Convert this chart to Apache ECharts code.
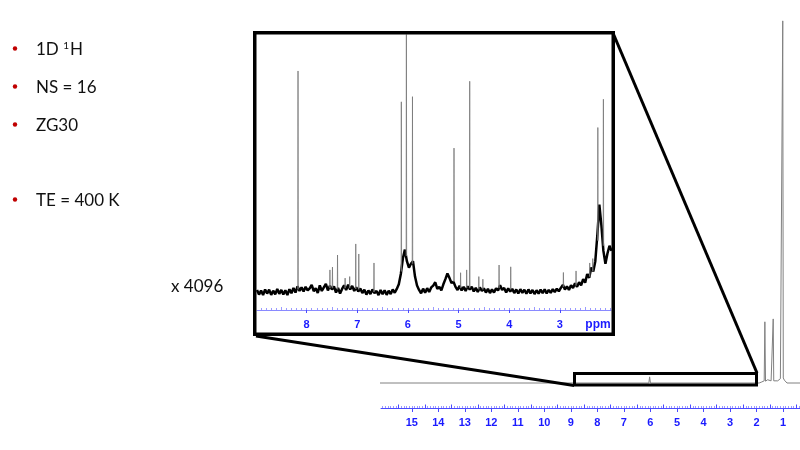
<!DOCTYPE html>
<html><head><meta charset="utf-8">
<script src="https://cdn.jsdelivr.net/npm/echarts@6/dist/echarts.min.js"></script>
<style>html,body{margin:0;padding:0;background:#fff}#c{width:800px;height:450px}</style>
</head><body><div id="c"></div>
<script>
// ---- text content ----
const bulletTexts = ['1D {sup|1}H', 'NS = 16', 'ZG30', 'TE = 400 K'];
const magnification = 'x 4096';
const insetUnit = 'ppm';

// ---- axis tick labels (ppm) ----
const mainTickLabels = [15, 14, 13, 12, 11, 10, 9, 8, 7, 6, 5, 4, 3, 2, 1];
const insetTickLabels = [8, 7, 6, 5, 4, 3];

// ---- full spectrum (ppm, relative intensity) ----
const mainPpm =       [16.2, 6.06, 6.03, 6.00, 1.90, 1.80, 1.71, 1.685, 1.66, 1.58, 1.53, 1.45, 1.39, 1.37, 1.35, 1.20, 1.10, 1.06, 1.03, 1.01, 0.99, 0.95, 0.85, 0.30];
const mainIntensity = [0,    0,    1.7,  0,    0,    0.3,  0.6,  16.9,  0.5,  0.9,  1.1,  0.6,  0.7,  17.7, 0.6,  0.6,  1.2,  1.6,  1.2,  100,  1.4,  0.8,  0,    0];

// ---- inset (x 4096): baseline read every 0.04 ppm from 8.98 ppm ----
const insetNoiseStart = 8.98;
const insetNoiseStep = 0.04;
const insetNoise = [
  0.8,-1.0,0.6,-1.2,1.0,-0.6,0.9,-1.1,0.5,-0.9,1.2,-0.7,0.8,-1.0,0.7,-1.2,1.1,-0.5,
  1.6,-0.2,2.2,0.4,1.8,
  0.2,2.0,0.6,1.4,2.8,0.3,1.5,-0.4,2.6,0.4,
  1.8,3.2,0.6,2.4,1.0,2.2,-0.2,1.6,-0.6,1.2,2.6,0.8,2.8,
  1.0,2.4,0.4,1.8,0.2,1.4,-0.4,
  0.9,-1.0,0.6,-0.8,1.0,-0.4,0.4,-1.2,0.8,-0.9,0.7,-1.1,0.5,-0.8,1.0,-0.3,
  1.2,3.0,7.0,13.0,16.5,12.0,9.5,11.0,12.0,6.0,2.5,0.8,
  -0.5,1.3,-0.3,1.5,0.0,1.8,2.5,3.8,1.2,2.0,0.6,
  3.0,5.0,7.2,5.5,3.5,4.0,2.0,0.8,
  2.4,0.6,2.0,0.4,2.2,1.0,2.0,0.2,1.6,0.0,1.8,0.4,1.4,-0.2,1.2,-0.4,1.0,
  -0.2,1.4,0.6,2.6,0.8,1.6,-0.2,1.4,0.2,1.2,-0.4,1.0,-0.6,1.1,-0.3,0.9,-0.7,1.0,-0.5,0.8,-0.8,0.7,
  -0.6,0.9,-0.4,1.0,-0.5,0.8,-0.3,1.1,0.0,1.3,0.3,1.6,2.8,1.0,2.2,
  0.8,2.6,1.6,3.4,2.0,3.8,2.6,5.0,3.6,7.0,5.5,9.5,8.0,12.0,22.0,34.0,26.0,16.0,11.0,15.0,18.0,
  16.0
];
// sharp lines in the inset
const insetPeakPpm =    [8.17, 7.54, 7.49, 7.39, 7.24, 7.15, 7.03, 6.97, 6.67, 6.13, 6.03, 5.91, 5.09, 4.96, 4.84, 4.78, 4.60, 4.52, 4.20, 3.97, 2.93, 2.68, 2.41, 2.35, 2.25, 2.14];
const insetPeakHeight = [86,   8.6,  9.7,  14.4, 5.4,  6.0,  18.7, 14.8, 11.3, 74,   110,  76,   56,   7.5,  8.6,  82,   6.0,  5.0,  10.5, 9.8,  7.6,  8.2,  11.3, 13.0, 64,   75];
const insetPeakBase =   [1.0,  1.5,  1.5,  1.0,  1.5,  1.5,  1.2,  1.0,  0.0,  8.0,  14.0, 11.0, 4.0,  1.5,  1.5,  1.5,  1.0,  1.0,  1.5,  1.0,  2.0,  2.5,  6.0,  8.0,  20.0, 18.0];

// ---- build series data ----
const mainData = mainPpm.map((p, i) => [p, mainIntensity[i]]);
const insetBaseData = insetNoise.map((v, i) => [+(insetNoiseStart - insetNoiseStep * i).toFixed(3), v]);
const insetPeakData = [];
insetPeakPpm.forEach((p, i) => {
  insetPeakData.push([p + 0.005, insetPeakBase[i]]);
  insetPeakData.push([p, insetPeakHeight[i]]);
  insetPeakData.push([p - 0.005, insetPeakBase[i]]);
  insetPeakData.push([p - 0.006, '-']);
});

function steps(from, to, tenths) { const a = []; for (let k = Math.round(from * 10); k <= Math.round(to * 10); k += tenths) a.push(k / 10); return a; }
const mainMinor = steps(0.4, 16.1, 1);
const mainHalf = steps(0.5, 16.0, 5).filter(v => !Number.isInteger(v));
const insetMinor = steps(2.0, 8.9, 1);
const insetHalf = steps(2.5, 8.5, 5).filter(v => !Number.isInteger(v));

const blueText = '#1a1aff';
const blueLine = '#4a4aff';
const blueLight = '#9a9aff';
const labelFont = { color: blueText, fontWeight: 'bold', fontSize: 11, fontFamily: 'Liberation Sans, Arial, sans-serif' };

function tickAxis(grid, min, max, values, len, inside, color) {
  return {
    type: 'value', gridIndex: grid, min: min, max: max, inverse: true, position: 'bottom', offset: 0,
    axisLine: { show: false, onZero: false }, splitLine: { show: false }, axisLabel: { show: false },
    axisTick: { show: true, customValues: values, inside: inside, length: len, lineStyle: { color: color, width: 1 } }
  };
}

const chart = echarts.init(document.getElementById('c'), null, { renderer: 'canvas' });
const graphics = [];
const bulletY = [49, 87, 125, 200];
bulletTexts.forEach((t, i) => {
  graphics.push({ type: 'circle', shape: { cx: 15, cy: bulletY[i] - 0.5, r: 2.2 }, style: { fill: '#c00000' }, z: 100 });
  graphics.push({ type: 'text', x: 36, y: bulletY[i] + 1, z: 100,
    style: { text: t, fill: '#111', font: '17px Lato, sans-serif', verticalAlign: 'middle',
      rich: { sup: { fontSize: 10, fontFamily: 'Lato', fill: '#111', verticalAlign: 'top', padding: [0, 1, 8, 0] } } } });
});
graphics.push({ type: 'text', x: 171, y: 287, z: 100, style: { text: magnification, fill: '#111', font: '17px Lato, sans-serif', verticalAlign: 'middle' } });
graphics.push({ type: 'text', x: 598, y: 325, z: 100, style: { text: insetUnit, fill: blueText, font: 'bold 12px Liberation Sans, Arial, sans-serif', align: 'center', verticalAlign: 'middle' } });
// inset frame, zoom box and connectors
graphics.push({ type: 'rect', z: 100, shape: { x: 254.75, y: 32.75, width: 358.5, height: 301.5 }, style: { fill: 'none', stroke: '#000', lineWidth: 3.5 } });
graphics.push({ type: 'rect', z: 100, shape: { x: 574.5, y: 373.5, width: 182, height: 11.5 }, style: { fill: 'none', stroke: '#000', lineWidth: 3 } });
graphics.push({ type: 'line', z: 100, shape: { x1: 256, y1: 336, x2: 574, y2: 385.5 }, style: { stroke: '#000', lineWidth: 3 } });
graphics.push({ type: 'line', z: 100, shape: { x1: 613, y1: 33, x2: 757, y2: 373 }, style: { stroke: '#000', lineWidth: 3 } });

chart.setOption({
  animation: false,
  backgroundColor: '#fff',
  grid: [
    { left: 381, right: 0, top: 10, bottom: 42 },
    { left: 257, width: 354, top: 35, bottom: 140 }
  ],
  xAxis: [
    { type: 'value', gridIndex: 0, min: 0.36, max: 16.16, inverse: true, position: 'bottom',
      axisLine: { show: true, onZero: false, lineStyle: { color: blueLine, width: 1 } }, splitLine: { show: false },
      axisTick: { show: true, customValues: mainTickLabels, inside: false, length: 4, lineStyle: { color: blueLine } },
      axisLabel: Object.assign({ customValues: mainTickLabels, margin: 9 }, labelFont) },
    tickAxis(0, 0.36, 16.16, mainMinor, 2, true, blueLight),
    tickAxis(0, 0.36, 16.16, mainHalf, 3.5, true, blueLine),
    { type: 'value', gridIndex: 1, min: 1.99, max: 8.98, inverse: true, position: 'bottom',
      axisLine: { show: true, onZero: false, lineStyle: { color: '#8a8aff', width: 1 } }, splitLine: { show: false },
      axisTick: { show: true, customValues: insetTickLabels, inside: false, length: 3, lineStyle: { color: blueLine } },
      axisLabel: Object.assign({ customValues: insetTickLabels, margin: 9 }, labelFont) },
    tickAxis(1, 1.99, 8.98, insetMinor, 2, true, blueLight),
    tickAxis(1, 1.99, 8.98, insetHalf, 3, true, blueLight)
  ],
  yAxis: [
    { type: 'value', gridIndex: 0, min: -6.9, max: 103, show: false },
    { type: 'value', gridIndex: 1, min: -7, max: 100, show: false }
  ],
  series: [
    { type: 'line', xAxisIndex: 0, yAxisIndex: 0, data: mainData, showSymbol: false, symbol: 'none', sampling: null,
      lineStyle: { color: '#808080', width: 1 }, z: 2 },
    { type: 'line', xAxisIndex: 3, yAxisIndex: 1, data: insetBaseData, showSymbol: false, symbol: 'none',
      lineStyle: { color: '#000', width: 2.5 }, z: 3 },
    { type: 'line', xAxisIndex: 3, yAxisIndex: 1, data: insetPeakData, showSymbol: false, symbol: 'none', connectNulls: false,
      lineStyle: { color: '#777', width: 0.8 }, z: 4 }
  ],
  graphic: graphics
});
</script></body></html>
